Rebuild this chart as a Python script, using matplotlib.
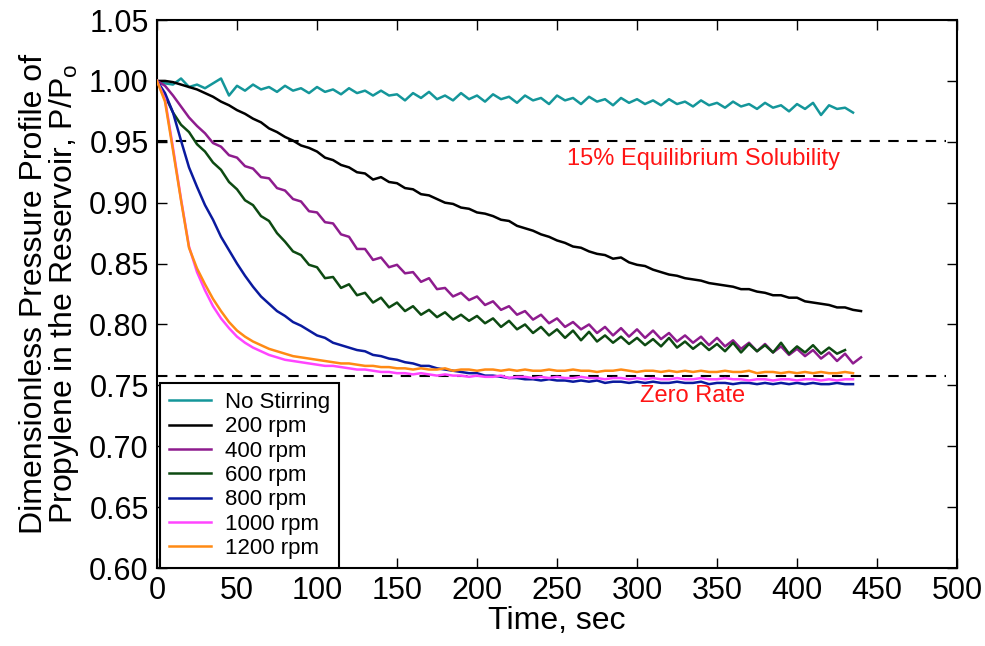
import matplotlib
matplotlib.use("Agg")
import matplotlib.pyplot as plt

plt.rcParams['font.family'] = ['Liberation Sans', 'DejaVu Sans']

# time grid (sec), shared by all runs
time_s = list(range(0, 445, 5))

# P/Po readings, every 5 s
no_stirring = [
    1.000, 0.998, 0.997, 1.002, 0.995, 0.997, 0.994, 0.998, 1.002, 0.988,
    0.996, 0.992, 0.997, 0.993, 0.995, 0.991, 0.996, 0.992, 0.994, 0.990,
    0.995, 0.991, 0.993, 0.989, 0.994, 0.990, 0.992, 0.988, 0.992, 0.988,
    0.989, 0.984, 0.990, 0.986, 0.991, 0.985, 0.988, 0.984, 0.990, 0.985,
    0.988, 0.983, 0.989, 0.985, 0.987, 0.982, 0.988, 0.984, 0.986, 0.981,
    0.988, 0.984, 0.986, 0.981, 0.987, 0.983, 0.985, 0.980, 0.986, 0.982,
    0.985, 0.981, 0.984, 0.980, 0.985, 0.981, 0.983, 0.979, 0.984, 0.980,
    0.982, 0.978, 0.983, 0.979, 0.981, 0.977, 0.982, 0.978, 0.980, 0.975,
    0.981, 0.977, 0.982, 0.972, 0.980, 0.977, 0.978, 0.974]

rpm_200 = [
    1.000, 1.000, 0.999, 0.997, 0.995, 0.993, 0.990, 0.987, 0.983, 0.980,
    0.976, 0.973, 0.969, 0.966, 0.961, 0.958, 0.954, 0.951, 0.947, 0.945,
    0.942, 0.937, 0.935, 0.931, 0.929, 0.925, 0.924, 0.919, 0.921, 0.917,
    0.916, 0.912, 0.911, 0.907, 0.906, 0.903, 0.900, 0.899, 0.896, 0.895,
    0.892, 0.891, 0.889, 0.886, 0.885, 0.881, 0.879, 0.877, 0.874, 0.872,
    0.869, 0.867, 0.864, 0.863, 0.860, 0.858, 0.857, 0.854, 0.855, 0.851,
    0.849, 0.848, 0.845, 0.843, 0.841, 0.840, 0.838, 0.837, 0.836, 0.834,
    0.833, 0.832, 0.831, 0.829, 0.829, 0.827, 0.826, 0.824, 0.824, 0.822,
    0.822, 0.819, 0.818, 0.817, 0.816, 0.814, 0.814, 0.812, 0.811]

rpm_400 = [
    1.000, 0.996, 0.988, 0.979, 0.970, 0.963, 0.957, 0.949, 0.946, 0.939,
    0.937, 0.930, 0.928, 0.921, 0.920, 0.912, 0.910, 0.903, 0.901, 0.893,
    0.892, 0.884, 0.883, 0.874, 0.872, 0.862, 0.862, 0.853, 0.855, 0.847,
    0.849, 0.842, 0.843, 0.835, 0.838, 0.829, 0.830, 0.823, 0.826, 0.820,
    0.823, 0.816, 0.819, 0.812, 0.815, 0.808, 0.811, 0.804, 0.808, 0.801,
    0.805, 0.798, 0.802, 0.796, 0.800, 0.793, 0.798, 0.791, 0.797, 0.790,
    0.796, 0.789, 0.795, 0.788, 0.793, 0.786, 0.791, 0.785, 0.790, 0.783,
    0.789, 0.782, 0.787, 0.780, 0.785, 0.778, 0.784, 0.777, 0.782, 0.775,
    0.780, 0.774, 0.779, 0.772, 0.777, 0.770, 0.776, 0.768, 0.773]

rpm_600 = [
    1.000, 0.988, 0.974, 0.964, 0.958, 0.948, 0.942, 0.933, 0.927, 0.917,
    0.911, 0.902, 0.898, 0.889, 0.885, 0.875, 0.868, 0.860, 0.857, 0.849,
    0.847, 0.838, 0.839, 0.830, 0.833, 0.824, 0.826, 0.818, 0.822, 0.814,
    0.818, 0.811, 0.815, 0.808, 0.812, 0.806, 0.810, 0.804, 0.808, 0.803,
    0.807, 0.801, 0.805, 0.798, 0.803, 0.796, 0.800, 0.793, 0.798, 0.791,
    0.796, 0.789, 0.795, 0.787, 0.794, 0.786, 0.791, 0.785, 0.790, 0.784,
    0.789, 0.783, 0.788, 0.782, 0.789, 0.781, 0.786, 0.780, 0.785, 0.779,
    0.784, 0.778, 0.785, 0.777, 0.784, 0.778, 0.783, 0.777, 0.785, 0.776,
    0.782, 0.777, 0.783, 0.776, 0.781, 0.776, 0.779]

rpm_800 = [
    1.000, 0.990, 0.974, 0.951, 0.929, 0.913, 0.898, 0.886, 0.872, 0.861,
    0.850, 0.840, 0.831, 0.823, 0.817, 0.811, 0.807, 0.802, 0.799, 0.795,
    0.791, 0.789, 0.785, 0.783, 0.781, 0.779, 0.778, 0.775, 0.774, 0.772,
    0.771, 0.769, 0.768, 0.766, 0.766, 0.764, 0.763, 0.762, 0.761, 0.760,
    0.760, 0.758, 0.758, 0.757, 0.756, 0.756, 0.755, 0.755, 0.754, 0.755,
    0.754, 0.754, 0.753, 0.754, 0.753, 0.754, 0.752, 0.753, 0.753, 0.752,
    0.753, 0.752, 0.753, 0.752, 0.752, 0.753, 0.752, 0.752, 0.753, 0.751,
    0.752, 0.752, 0.751, 0.752, 0.752, 0.751, 0.752, 0.751, 0.752, 0.751,
    0.752, 0.751, 0.752, 0.751, 0.751, 0.752, 0.751, 0.751]

rpm_1000 = [
    1.000, 0.985, 0.945, 0.903, 0.864, 0.843, 0.828, 0.815, 0.805, 0.797,
    0.790, 0.785, 0.781, 0.778, 0.775, 0.773, 0.771, 0.770, 0.769, 0.768,
    0.767, 0.766, 0.766, 0.765, 0.764, 0.763, 0.763, 0.762, 0.761, 0.761,
    0.760, 0.760, 0.759, 0.760, 0.759, 0.758, 0.759, 0.758, 0.758, 0.757,
    0.758, 0.757, 0.757, 0.758, 0.756, 0.757, 0.757, 0.756, 0.757, 0.756,
    0.757, 0.756, 0.756, 0.757, 0.756, 0.756, 0.755, 0.756, 0.756, 0.755,
    0.756, 0.755, 0.756, 0.755, 0.755, 0.756, 0.755, 0.755, 0.756, 0.755,
    0.755, 0.756, 0.755, 0.755, 0.754, 0.755, 0.755, 0.754, 0.755, 0.755,
    0.754, 0.755, 0.755, 0.754, 0.755, 0.754, 0.755, 0.755]

rpm_1200 = [
    1.000, 0.983, 0.943, 0.902, 0.863, 0.846, 0.833, 0.821, 0.811, 0.802,
    0.795, 0.790, 0.786, 0.783, 0.780, 0.778, 0.776, 0.774, 0.773, 0.772,
    0.771, 0.770, 0.769, 0.768, 0.768, 0.767, 0.766, 0.766, 0.765, 0.765,
    0.764, 0.764, 0.763, 0.764, 0.763, 0.763, 0.764, 0.762, 0.763, 0.763,
    0.762, 0.763, 0.763, 0.762, 0.763, 0.762, 0.763, 0.762, 0.762, 0.763,
    0.762, 0.762, 0.763, 0.762, 0.762, 0.761, 0.762, 0.762, 0.763, 0.762,
    0.761, 0.762, 0.762, 0.761, 0.762, 0.761, 0.762, 0.761, 0.762, 0.761,
    0.761, 0.762, 0.761, 0.761, 0.762, 0.760, 0.761, 0.761, 0.760, 0.761,
    0.760, 0.761, 0.760, 0.761, 0.760, 0.760, 0.761, 0.760]

labels = ["No Stirring", "200 rpm", "400 rpm", "600 rpm", "800 rpm", "1000 rpm", "1200 rpm"]
series = [no_stirring, rpm_200, rpm_400, rpm_600, rpm_800, rpm_1000, rpm_1200]
colors = ["#14969a", "#000000", "#8e1c8e", "#0d4a12", "#0a1a9e", "#ff45ff", "#ff8a14"]

# reference levels
equilibrium_level = 0.951
zero_rate_level = 0.758
dash_end = 493

fig = plt.figure(figsize=(9.85, 6.46), dpi=100)
ax = fig.add_axes([0.1594, 0.1207, 0.8122, 0.8483])

ax.hlines([equilibrium_level, zero_rate_level], 0, dash_end, colors="black",
          linestyles=(0, (5, 4)), linewidth=1.5, zorder=1)

for vals, lab, col in zip(series, labels, colors):
    ax.plot(time_s[:len(vals)], vals, color=col, linewidth=1.8, label=lab, zorder=3)

ax.set_xlim(0, 500)
ax.set_ylim(0.60, 1.05)
ax.set_xticks(range(0, 501, 50))
ax.set_yticks([0.60, 0.65, 0.70, 0.75, 0.80, 0.85, 0.90, 0.95, 1.00, 1.05])
ax.yaxis.set_major_formatter(matplotlib.ticker.FormatStrFormatter('%.2f'))
ax.tick_params(direction="in", length=7, width=1.0, top=True, right=True,
               labelsize=22, pad=6)
for sp in ax.spines.values():
    sp.set_linewidth(1.5)

ax.set_xlabel("Time, sec", fontsize=23, labelpad=0)
ax.set_ylabel("Dimensionless Pressure Profile of\nPropylene in the Reservoir, P/P$_\\mathregular{o}$",
              fontsize=23, linespacing=0.9, labelpad=6)

ax.text(256, 0.9355, "15% Equilibrium Solubility", color="#ff1414", fontsize=17,
        va="center", ha="left")
ax.text(335, 0.741, "Zero Rate", color="#ff1414", fontsize=17, va="center", ha="center")

leg = ax.legend(loc="lower left", bbox_to_anchor=(0.004, 0.0), borderaxespad=0,
                fontsize=16, handlelength=1.9, handletextpad=0.6, labelspacing=0.15,
                borderpad=0.4, fancybox=False, framealpha=1)
leg.get_frame().set_edgecolor("black")
leg.get_frame().set_linewidth(1.5)

fig.savefig("out.png", dpi=100)
